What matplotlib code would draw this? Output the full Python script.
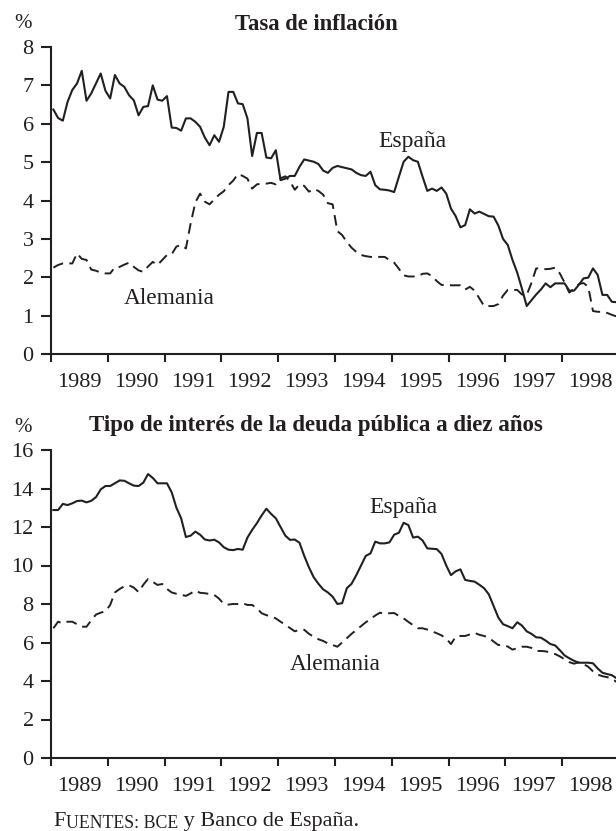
import matplotlib
matplotlib.use('Agg')
import matplotlib.pyplot as plt
import numpy as np
from matplotlib.text import Annotation

# ---------------- data (monthly, Jan 1989 - Dec 1998) ----------------
years = [1989, 1990, 1991, 1992, 1993, 1994, 1995, 1996, 1997, 1998]

infl_es = [6.37, 6.15, 6.08, 6.57, 6.88, 7.05, 7.38, 6.60, 6.79, 7.05, 7.31, 6.86,
           6.66, 7.27, 7.05, 6.96, 6.74, 6.61, 6.22, 6.44, 6.46, 7.00, 6.63, 6.60,
           6.72, 5.90, 5.89, 5.82, 6.14, 6.14, 6.05, 5.92, 5.64, 5.44, 5.70, 5.53,
           5.92, 6.83, 6.83, 6.53, 6.51, 6.14, 5.16, 5.76, 5.76, 5.12, 5.10, 5.31,
           4.53, 4.57, 4.64, 4.64, 4.88, 5.07, 5.04, 5.01, 4.95, 4.78, 4.72, 4.85,
           4.90, 4.87, 4.84, 4.81, 4.72, 4.66, 4.64, 4.75, 4.40, 4.29, 4.28, 4.26,
           4.22, 4.62, 5.01, 5.14, 5.05, 5.01, 4.62, 4.25, 4.31, 4.25, 4.34, 4.18,
           3.79, 3.59, 3.30, 3.36, 3.77, 3.66, 3.71, 3.65, 3.59, 3.58, 3.35, 3.00,
           2.84, 2.45, 2.12, 1.70, 1.25, 1.40, 1.55, 1.68, 1.84, 1.74, 1.84, 1.84,
           1.84, 1.65, 1.65, 1.80, 1.97, 1.99, 2.23, 2.06, 1.54, 1.54, 1.36, 1.35]

infl_de = [2.25, 2.32, 2.36, 2.36, 2.36, 2.62, 2.48, 2.45, 2.20, 2.17, 2.12, 2.10,
           2.10, 2.26, 2.27, 2.33, 2.38, 2.27, 2.18, 2.14, 2.28, 2.40, 2.32, 2.45,
           2.58, 2.60, 2.80, 2.84, 2.75, 3.40, 3.95, 4.18, 3.97, 3.90, 4.03, 4.15,
           4.24, 4.40, 4.52, 4.69, 4.64, 4.57, 4.31, 4.42, 4.44, 4.44, 4.46, 4.42,
           4.58, 4.63, 4.50, 4.28, 4.42, 4.38, 4.23, 4.30, 4.25, 4.15, 3.93, 3.90,
           3.20, 3.10, 2.92, 2.77, 2.66, 2.58, 2.55, 2.53, 2.53, 2.53, 2.53, 2.45,
           2.38, 2.22, 2.05, 2.02, 2.02, 2.03, 2.09, 2.10, 2.03, 1.90, 1.80, 1.80,
           1.79, 1.79, 1.79, 1.68, 1.75, 1.65, 1.45, 1.25, 1.25, 1.25, 1.30, 1.52,
           1.67, 1.67, 1.67, 1.55, 1.54, 1.85, 2.23, 2.23, 2.21, 2.22, 2.25, 2.10,
           1.86, 1.60, 1.70, 1.82, 1.85, 1.75, 1.12, 1.10, 1.10, 1.07, 1.02, 0.98]

bond_es = [12.88, 12.88, 13.20, 13.14, 13.23, 13.35, 13.37, 13.28, 13.36, 13.55, 13.95, 14.13,
           14.13, 14.27, 14.42, 14.40, 14.27, 14.15, 14.13, 14.30, 14.75, 14.55, 14.27, 14.27,
           14.27, 13.80, 13.00, 12.45, 11.48, 11.55, 11.76, 11.60, 11.35, 11.30, 11.34, 11.20,
           10.95, 10.82, 10.80, 10.86, 10.82, 11.45, 11.85, 12.20, 12.60, 12.95, 12.68, 12.45,
           12.00, 11.55, 11.33, 11.35, 11.18, 10.50, 9.90, 9.39, 9.05, 8.76, 8.60, 8.38,
           8.00, 8.04, 8.82, 9.05, 9.50, 10.00, 10.50, 10.63, 11.24, 11.15, 11.15, 11.20,
           11.60, 11.70, 12.22, 12.10, 11.45, 11.50, 11.30, 10.89, 10.87, 10.85, 10.60, 10.00,
           9.50, 9.70, 9.80, 9.25, 9.20, 9.16, 9.00, 8.82, 8.50, 7.90, 7.30, 6.95,
           6.85, 6.74, 7.05, 6.88, 6.58, 6.45, 6.27, 6.25, 6.10, 5.92, 5.85, 5.60,
           5.33, 5.18, 5.05, 4.95, 4.95, 4.95, 4.92, 4.65, 4.43, 4.36, 4.30, 4.14]

bond_de = [6.74, 7.08, 7.00, 7.08, 7.08, 6.95, 6.82, 6.82, 7.15, 7.45, 7.55, 7.62,
           7.95, 8.60, 8.78, 8.92, 8.97, 8.85, 8.62, 9.00, 9.30, 9.15, 8.99, 9.04,
           8.78, 8.60, 8.53, 8.48, 8.42, 8.55, 8.70, 8.58, 8.56, 8.52, 8.47, 8.28,
           8.00, 7.97, 8.00, 8.00, 8.04, 7.95, 7.95, 7.78, 7.52, 7.42, 7.36, 7.25,
           7.08, 6.92, 6.75, 6.58, 6.66, 6.66, 6.45, 6.30, 6.17, 6.08, 5.95, 5.87,
           5.78, 6.00, 6.22, 6.45, 6.65, 6.85, 7.05, 7.22, 7.40, 7.55, 7.48, 7.52,
           7.53, 7.38, 7.25, 7.07, 6.90, 6.74, 6.74, 6.67, 6.58, 6.48, 6.37, 6.20,
           5.92, 6.30, 6.34, 6.34, 6.42, 6.50, 6.40, 6.34, 6.25, 6.05, 5.87, 5.87,
           5.79, 5.63, 5.70, 5.78, 5.78, 5.72, 5.56, 5.56, 5.54, 5.48, 5.40, 5.28,
           5.13, 4.98, 4.90, 4.97, 4.88, 4.74, 4.50, 4.33, 4.25, 4.20, 4.12, 3.95]

titles = ["Tasa de inflación", "Tipo de interés de la deuda pública a diez años"]
series_names = ["España", "Alemania"]

# ---------------- figure ----------------
plt.rcParams['font.family'] = ['Liberation Serif', 'DejaVu Serif']
INK = '#231f20'
W, H = 616, 831
fig = plt.figure(figsize=(W / 100, H / 100), dpi=100)
fig.patch.set_facecolor('white')

def fx(px):
    return px / W

def fy(py):
    return 1 - py / H

n = len(infl_es)
xm = 1989 + (np.arange(n) + 0.5) / 12.0

def make_axes(top_px, bot_px, ymax, ystep):
    left = 51
    right = 51 + 10 * 56.8
    ax = fig.add_axes([fx(left), fy(bot_px), (right - left) / W, (bot_px - top_px) / H])
    ax.set_xlim(1989, 1999)
    ax.set_ylim(0, ymax)
    ax.patch.set_visible(False)
    for s in ['top', 'right']:
        ax.spines[s].set_visible(False)
    for s in ['left', 'bottom']:
        ax.spines[s].set_linewidth(1.5)
        ax.spines[s].set_color(INK)
    ax.set_xticks(list(range(1989, 2000)))
    ax.set_xticklabels([])
    ax.set_xticks([y + 0.5 for y in years], minor=True)
    ax.set_xticklabels([str(y) for y in years], minor=True)
    ax.tick_params(axis='x', which='major', length=6, width=1.5, color=INK, direction='out')
    ax.tick_params(axis='x', which='minor', length=0, pad=14, labelsize=16, labelcolor=INK)
    ax.set_yticks(np.arange(0, ymax + 0.01, ystep))
    ax.set_yticklabels([str(int(v)) for v in np.arange(0, ymax + 0.01, ystep)])
    ax.tick_params(axis='y', length=7.5, width=1.5, color=INK, pad=5, labelsize=16, labelcolor=INK)
    return ax

ax1 = make_axes(47, 354, 8, 1)
ax1.plot(xm, infl_es, color=INK, lw=1.5)
ax1.plot(xm, infl_de, color=INK, lw=1.4, dashes=(5.5, 3.2))

ax2 = make_axes(450, 758, 16, 2)
ax2.plot(xm, bond_es, color=INK, lw=1.5)
ax2.plot(xm, bond_de, color=INK, lw=1.4, dashes=(5.5, 3.2))

# titles and % signs
fig.text(fx(316), fy(30), titles[0], ha='center', va='baseline', fontsize=16.3,
         fontweight='bold', color=INK)
fig.text(fx(316), fy(431), titles[1], ha='center', va='baseline', fontsize=16.5,
         fontweight='bold', color=INK)
fig.text(fx(23), fy(23), "%", ha='center', va='center', fontsize=15, color=INK)
fig.text(fx(23), fy(427), "%", ha='center', va='center', fontsize=15, color=INK)

# series labels
fig.text(fx(412), fy(141), series_names[0], ha='center', va='center', fontsize=17, color=INK)
fig.text(fx(169), fy(299), series_names[1], ha='center', va='center', fontsize=16.8, color=INK)
fig.text(fx(403), fy(507), series_names[0], ha='center', va='center', fontsize=17, color=INK)
fig.text(fx(335), fy(665), series_names[1], ha='center', va='center', fontsize=16.8, color=INK)

# footer with small caps imitation
t1 = fig.text(fx(53), fy(831), "F", ha='left', va='bottom', fontsize=16, color=INK)
a1 = Annotation("UENTES: BCE", xy=(1, 0), xycoords=t1, xytext=(0.4, -0.8),
                textcoords='offset points', ha='left', va='bottom', fontsize=12.8,
                color=INK)
fig.add_artist(a1)
a2 = Annotation(" y Banco de España.", xy=(1, 0), xycoords=a1, xytext=(0, 0.8),
                textcoords='offset points', ha='left', va='bottom', fontsize=16, color=INK)
fig.add_artist(a2)

fig.savefig('out.png', dpi=100, facecolor='white')
